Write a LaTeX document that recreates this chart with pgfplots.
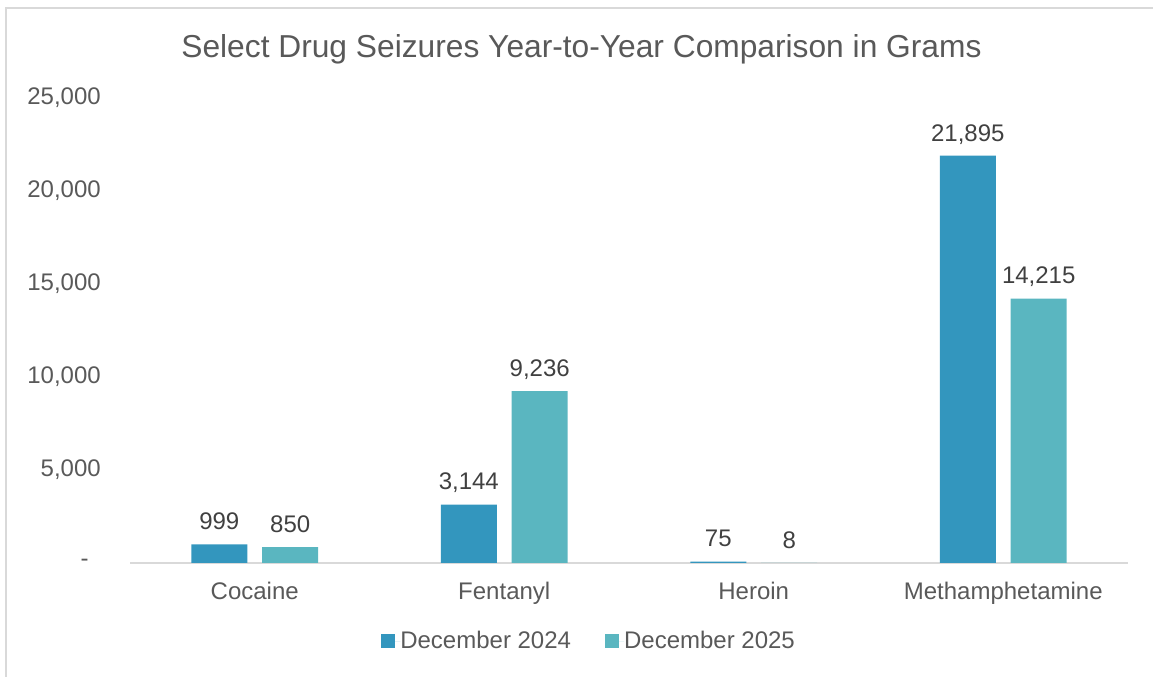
\documentclass[border=0pt]{standalone}
\usepackage{pgfplots}
\pgfplotsset{compat=1.18}
\usepackage{fontspec}
\setmainfont{Liberation Sans}
\definecolor{dec24}{HTML}{3396BE}
\definecolor{dec25}{HTML}{5AB6C0}
\definecolor{txt}{HTML}{595959}
\definecolor{lbl}{HTML}{404040}
\definecolor{frame}{HTML}{D9D9D9}
\begin{document}
\begin{tikzpicture}
\path[use as bounding box] (0,0) rectangle (864.75pt,507.75pt);
\draw[frame, line width=1.5pt] (4.5pt,0) -- (4.5pt,502.1pt) -- (864.75pt,502.1pt);
\node[txt, font=\fontsize{23.8}{28}\selectfont] at (436.1pt,471pt) {Select Drug Seizures Year-to-Year Comparison in Grams};
\begin{axis}[
    at={(97.5pt,85.5pt)}, anchor=south west,
    scale only axis,
    width=748.5pt, height=348.75pt,
    ybar,
    xmin=-0.5, xmax=3.5,
    ymin=0, ymax=25000,
    bar width=42pt,
    axis y line=none,
    axis x line*=bottom,
    axis line style={frame, line width=1.2pt},
    x axis line style={-},
    xtick={0,1,2,3},
    xticklabels={Cocaine,Fentanyl,Heroin,Methamphetamine},
    major tick length=0pt,
    xticklabel style={txt, font=\fontsize{18}{21.6}\selectfont, inner sep=0pt, anchor=north, yshift=-14pt},
    clip=false,
    /pgf/number format/assume math mode=true,
    /pgf/number format/1000 sep={,},
    nodes near coords,
    every node near coord/.append style={lbl, font=\fontsize{18}{21.6}\selectfont, anchor=base, inner sep=0pt, yshift=11pt},
    legend columns=2,
    legend style={at={(0.459,-0.168)}, anchor=center, draw=none, fill=none,
        font=\fontsize{18}{21.6}\selectfont, text=txt,
        /tikz/every even column/.append style={column sep=25.5pt},
        nodes={inner sep=0pt}},
    legend image code/.code={\fill[#1] (0pt,-5.25pt) rectangle (10.5pt,5.25pt); \path (0pt,0pt) -- (14.25pt,0pt);},
]
% y tick labels drawn in text font
\pgfplotsinvokeforeach{5000,10000,15000,20000,25000}{
  \node[txt, font=\fontsize{18}{21.6}\selectfont, anchor=east, inner sep=0pt] at (axis cs:-0.5,#1) [xshift=-21.75pt] {\pgfmathprintnumber[assume math mode=true,1000 sep={,}]{#1}};
}
\node[txt, font=\fontsize{18}{21.6}\selectfont, anchor=east, inner sep=0pt] at (axis cs:-0.5,0) [xshift=-30.75pt] {-};
\addplot[fill=dec24, draw=none, bar shift=-26.6pt] coordinates {(0,999) (1,3144) (2,75) (3,21895)};
\addplot[fill=dec25, draw=none, bar shift=26.6pt] coordinates {(0,850) (1,9236) (2,8) (3,14215)};
\legend{December 2024, December 2025}
\end{axis}
\end{tikzpicture}
\end{document}
